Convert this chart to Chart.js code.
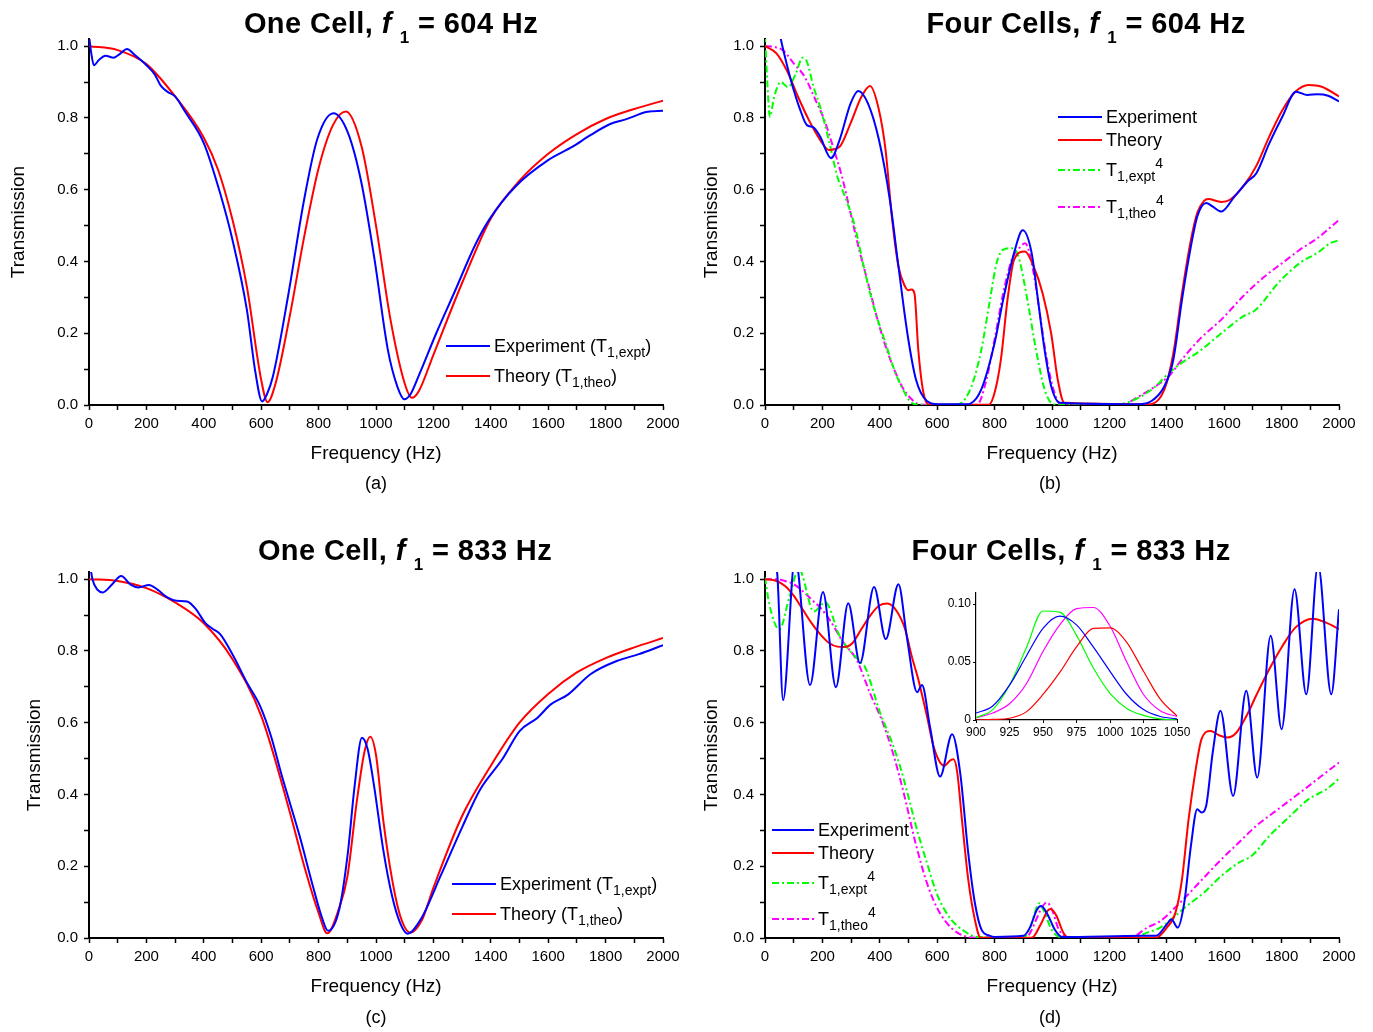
<!DOCTYPE html>
<html><head><meta charset="utf-8">
<script src="https://cdn.jsdelivr.net/npm/chart.js@4.4.1/dist/chart.umd.min.js"></script>
<style>
html,body{margin:0;padding:0;background:#fff;}
#wrap{position:relative;width:1373px;height:1032px;overflow:hidden;font-family:'Liberation Sans',Arial,sans-serif;color:#000;}
canvas{position:absolute;}
.ttl{position:absolute;transform:translateX(-50%);font-weight:bold;font-size:29px;line-height:28px;letter-spacing:0.4px;white-space:nowrap;z-index:2;}
.ttl i{font-style:italic;}
.ttl sub{font-size:17px;vertical-align:-10px;line-height:0;margin-left:8px;}
.cap{position:absolute;transform:translateX(-50%);font-size:18px;line-height:20px;white-space:nowrap;z-index:2;}
.lg{position:absolute;display:flex;align-items:center;height:20px;white-space:nowrap;z-index:2;}
.lg svg{flex:none;margin-right:4px;}
.lg span{line-height:20px;}
.lg sub{font-size:14px;vertical-align:-5px;line-height:0;}
.lg sup{font-size:14px;vertical-align:8px;line-height:0;}
</style></head>
<body><div id="wrap">
<canvas id="ca" width="690" height="500" style="left:0;top:0"></canvas>
<canvas id="cb" width="683" height="500" style="left:690px;top:0"></canvas>
<canvas id="cc" width="690" height="512" style="left:0;top:520px"></canvas>
<canvas id="cd" width="683" height="512" style="left:690px;top:520px"></canvas>
<canvas id="ci" width="280" height="160" style="left:930px;top:583px"></canvas>

<div class="ttl" style="left:391px;top:9px">One Cell, <i>f</i><sub>1</sub> = 604 Hz</div>
<div class="ttl" style="left:1086px;top:9px">Four Cells, <i>f</i><sub>1</sub> = 604 Hz</div>
<div class="ttl" style="left:405px;top:536px">One Cell, <i>f</i><sub>1</sub> = 833 Hz</div>
<div class="ttl" style="left:1071px;top:536px">Four Cells, <i>f</i><sub>1</sub> = 833 Hz</div>

<div class="cap" style="left:376px;top:473px">(a)</div>
<div class="cap" style="left:1050px;top:473px">(b)</div>
<div class="cap" style="left:376px;top:1007px">(c)</div>
<div class="cap" style="left:1050px;top:1007px">(d)</div>

<div class="lg" style="left:446px;top:336px;font-size:18px"><svg width="44" height="20"><line x1="0" y1="10" x2="44" y2="10" stroke="#0000ff" stroke-width="2"/></svg><span>Experiment (T<sub>1,expt</sub>)</span></div>
<div class="lg" style="left:446px;top:366px;font-size:18px"><svg width="44" height="20"><line x1="0" y1="10" x2="44" y2="10" stroke="#ff0000" stroke-width="2"/></svg><span>Theory (T<sub>1,theo</sub>)</span></div>

<div class="lg" style="left:452px;top:874px;font-size:18px"><svg width="44" height="20"><line x1="0" y1="10" x2="44" y2="10" stroke="#0000ff" stroke-width="2"/></svg><span>Experiment (T<sub>1,expt</sub>)</span></div>
<div class="lg" style="left:452px;top:904px;font-size:18px"><svg width="44" height="20"><line x1="0" y1="10" x2="44" y2="10" stroke="#ff0000" stroke-width="2"/></svg><span>Theory (T<sub>1,theo</sub>)</span></div>

<div class="lg" style="left:1058px;top:107px;font-size:18px"><svg width="44" height="20"><line x1="0" y1="10" x2="44" y2="10" stroke="#0000ff" stroke-width="2"/></svg><span>Experiment</span></div>
<div class="lg" style="left:1058px;top:130px;font-size:18px"><svg width="44" height="20"><line x1="0" y1="10" x2="44" y2="10" stroke="#ff0000" stroke-width="2"/></svg><span>Theory</span></div>
<div class="lg" style="left:1058px;top:160px;font-size:18px"><svg width="44" height="20"><line x1="0" y1="10" x2="44" y2="10" stroke="#00ff00" stroke-width="2" stroke-dasharray="7 3 2 3"/></svg><span>T<sub>1,expt</sub><sup>4</sup></span></div>
<div class="lg" style="left:1058px;top:197px;font-size:18px"><svg width="44" height="20"><line x1="0" y1="10" x2="44" y2="10" stroke="#ff00ff" stroke-width="2" stroke-dasharray="7 3 2 3"/></svg><span>T<sub>1,theo</sub><sup>4</sup></span></div>

<div class="lg" style="left:772px;top:820px;font-size:18px"><svg width="42" height="20"><line x1="0" y1="10" x2="42" y2="10" stroke="#0000ff" stroke-width="2"/></svg><span>Experiment</span></div>
<div class="lg" style="left:772px;top:843px;font-size:18px"><svg width="42" height="20"><line x1="0" y1="10" x2="42" y2="10" stroke="#ff0000" stroke-width="2"/></svg><span>Theory</span></div>
<div class="lg" style="left:772px;top:873px;font-size:18px"><svg width="42" height="20"><line x1="0" y1="10" x2="42" y2="10" stroke="#00ff00" stroke-width="2" stroke-dasharray="7 3 2 3"/></svg><span>T<sub>1,expt</sub><sup>4</sup></span></div>
<div class="lg" style="left:772px;top:909px;font-size:18px"><svg width="42" height="20"><line x1="0" y1="10" x2="42" y2="10" stroke="#ff00ff" stroke-width="2" stroke-dasharray="7 3 2 3"/></svg><span>T<sub>1,theo</sub><sup>4</sup></span></div>
</div>
<script>
// ---------- tick labels ----------
const xTicks = [0,100,200,300,400,500,600,700,800,900,1000,1100,1200,1300,1400,1500,1600,1700,1800,1900,2000];
const yTicks = [0,0.1,0.2,0.3,0.4,0.5,0.6,0.7,0.8,0.9,1.0];
const insetXTicks = [900,925,950,975,1000,1025,1050];
const insetYTicks = [0,0.05,0.10];

// ---------- (a) One Cell, f1 = 604 Hz ----------
const aExpF = [0,8,17,35,58,86,110,132,160,200,230,250,275,300,335,400,457,500,550,580,603,620,641,695,749,795,852,903,949,995,1041,1075,1099,1120,1148,1210,1271,1348,1394,1486,1601,1685,1747,1816,1870,1946,2000];
const aExpT = [1.03,0.98,0.947,0.962,0.973,0.968,0.98,0.992,0.975,0.947,0.92,0.89,0.872,0.86,0.817,0.73,0.59,0.46,0.266,0.09,0.01,0.03,0.08,0.31,0.57,0.74,0.813,0.757,0.62,0.405,0.155,0.05,0.016,0.03,0.08,0.2,0.31,0.45,0.516,0.609,0.683,0.72,0.752,0.783,0.796,0.817,0.82];
const aTheoF = [0,100,200,300,400,450,500,550,600,622,650,700,750,800,850,895,950,1000,1050,1100,1125,1150,1200,1300,1400,1500,1600,1700,1800,1900,2000];
const aTheoT = [1.0,0.989,0.95,0.86,0.745,0.655,0.516,0.33,0.07,0.008,0.06,0.25,0.47,0.66,0.78,0.818,0.72,0.5,0.24,0.06,0.02,0.04,0.14,0.34,0.52,0.625,0.70,0.755,0.797,0.825,0.848];

// ---------- (b) Four Cells, f1 = 604 Hz ----------
const bExpF = [0,30,55,78,100,123,146,169,192,230,260,298,325,359,397,435,465,496,526,564,602,700,716,754,800,830,868,898,929,951,974,997,1028,1300,1347,1392,1423,1453,1484,1506,1537,1560,1590,1635,1681,1712,1757,1803,1850,1890,1925,1962,2000];
const bExpT = [1.2,1.12,1.02,0.943,0.878,0.822,0.78,0.774,0.748,0.688,0.739,0.84,0.875,0.84,0.739,0.572,0.386,0.2,0.071,0.011,0.002,0.002,0.004,0.044,0.173,0.294,0.424,0.487,0.424,0.294,0.155,0.053,0.006,0.002,0.011,0.053,0.127,0.294,0.442,0.525,0.563,0.553,0.539,0.58,0.623,0.646,0.729,0.804,0.873,0.864,0.866,0.862,0.846];
const bTheoF = [0,40,78,115,153,192,222,260,298,336,366,397,420,442,465,488,500,511,521,534,552,572,780,800,822,845,868,906,936,967,997,1020,1043,1340,1392,1423,1453,1484,1506,1529,1544,1590,1620,1666,1711,1757,1803,1848,1894,1940,2000];
const bTheoT = [1.0,0.98,0.929,0.859,0.794,0.739,0.711,0.72,0.785,0.859,0.889,0.822,0.711,0.525,0.386,0.33,0.32,0.322,0.31,0.155,0.034,0.001,0.001,0.034,0.127,0.294,0.405,0.428,0.386,0.312,0.2,0.071,0.006,0.002,0.044,0.145,0.312,0.46,0.535,0.568,0.574,0.566,0.572,0.609,0.665,0.748,0.822,0.873,0.892,0.887,0.86];
const bT1eF = [0,8,17,32,55,80,108,131,146,169,192,222,252,283,313,344,366,389,420,450,480,511,540,650,678,700,724,754,784,807,830,860,883,914,944,974,997,1020,1225,1301,1362,1408,1453,1514,1590,1666,1711,1788,1864,1925,1970,2000];
const bT1eT = [1.03,0.9,0.803,0.859,0.9,0.886,0.925,0.968,0.957,0.887,0.831,0.739,0.637,0.572,0.498,0.386,0.312,0.247,0.173,0.099,0.044,0.006,0.001,0.001,0.003,0.02,0.062,0.155,0.294,0.396,0.433,0.437,0.414,0.294,0.155,0.044,0.006,0.001,0.001,0.02,0.053,0.09,0.118,0.15,0.2,0.247,0.266,0.34,0.396,0.424,0.451,0.459];
const bT1tF = [0,32,62,100,138,176,207,237,268,298,328,359,389,420,450,480,511,541,739,769,800,830,860,891,906,936,959,982,1005,1028,1250,1286,1362,1408,1453,1514,1590,1666,1742,1803,1864,1925,2000];
const bT1tT = [1.0,0.998,0.989,0.952,0.915,0.85,0.794,0.72,0.637,0.535,0.433,0.34,0.247,0.164,0.099,0.048,0.016,0.001,0.001,0.062,0.183,0.312,0.405,0.442,0.451,0.368,0.247,0.127,0.044,0.004,0.001,0.016,0.053,0.081,0.127,0.183,0.238,0.303,0.359,0.396,0.433,0.465,0.516];

// ---------- (c) One Cell, f1 = 833 Hz ----------
const cExpF = [0,12,30,48,80,112,145,173,209,240,273,304,342,373,404,430,457,503,550,596,634,672,734,780,810,833,872,902,925,951,971,994,1025,1056,1085,1110,1156,1225,1302,1363,1440,1501,1563,1609,1670,1747,1839,1916,2000];
const cExpT = [1.06,1.0,0.97,0.963,0.985,1.009,0.985,0.977,0.984,0.97,0.949,0.94,0.938,0.916,0.879,0.862,0.847,0.786,0.712,0.647,0.563,0.452,0.284,0.145,0.061,0.02,0.08,0.238,0.42,0.558,0.526,0.42,0.247,0.117,0.04,0.012,0.052,0.173,0.312,0.414,0.498,0.577,0.614,0.651,0.679,0.735,0.772,0.791,0.816];
const cTheoF = [0,100,200,300,400,500,600,700,750,800,830,870,900,933,960,980,1000,1025,1056,1085,1120,1160,1200,1300,1400,1500,1600,1700,1800,1900,2000];
const cTheoT = [1.0,0.995,0.975,0.935,0.877,0.777,0.619,0.35,0.2,0.07,0.013,0.08,0.17,0.38,0.52,0.561,0.51,0.33,0.164,0.06,0.015,0.05,0.14,0.34,0.48,0.6,0.68,0.74,0.78,0.81,0.836];

// ---------- (d) Four Cells, f1 = 833 Hz ----------
const dExpF = [0,42,63,105,157,202,247,290,331,380,421,465,494,530,547,575,610,652,680,708,731,754,784,800,900,923,947,962,985,1010,1035,1316,1362,1400,1416,1438,1461,1484,1506,1521,1537,1560,1587,1631,1677,1715,1762,1800,1845,1886,1927,1973,2000];
const dExpT = [1.1,1.02,0.663,1.06,0.705,0.964,0.699,0.933,0.766,0.978,0.833,0.986,0.84,0.685,0.705,0.588,0.45,0.568,0.461,0.238,0.099,0.024,0.006,0.003,0.006,0.029,0.078,0.089,0.065,0.023,0.003,0.006,0.006,0.038,0.052,0.029,0.099,0.257,0.359,0.35,0.368,0.517,0.633,0.396,0.689,0.447,0.842,0.582,0.972,0.679,1.04,0.679,0.916];
const dTheoF = [0,40,70,100,131,161,192,222,252,275,306,336,366,397,427,458,488,511,534,564,587,610,625,647,657,670,686,708,731,751,930,960,985,995,1015,1040,1060,1362,1400,1430,1453,1476,1499,1521,1552,1582,1612,1642,1681,1711,1757,1803,1848,1909,1955,2000];
const dTheoT = [1.0,0.995,0.981,0.954,0.916,0.879,0.847,0.823,0.812,0.811,0.823,0.861,0.898,0.926,0.932,0.912,0.861,0.786,0.721,0.619,0.535,0.489,0.48,0.496,0.498,0.461,0.331,0.164,0.052,0.001,0.001,0.037,0.076,0.081,0.063,0.014,0.001,0.001,0.029,0.07,0.164,0.331,0.461,0.554,0.577,0.565,0.559,0.572,0.624,0.675,0.749,0.814,0.865,0.89,0.879,0.861];
const dT1eF = [0,15,50,85,118,170,210,261,331,348,400,440,470,496,526,564,602,648,693,739,900,923,945,956,972,997,1022,1050,1271,1332,1377,1423,1469,1529,1590,1651,1696,1757,1818,1894,1955,2000];
const dT1eT = [1.005,0.93,0.86,0.95,1.028,0.91,0.935,0.84,0.77,0.756,0.63,0.55,0.48,0.405,0.312,0.21,0.117,0.052,0.02,0.003,0.002,0.026,0.082,0.097,0.075,0.026,0.004,0.001,0.001,0.015,0.029,0.057,0.089,0.126,0.173,0.21,0.229,0.284,0.331,0.387,0.414,0.444];
const dT1tF = [0,40,70,100,131,161,192,226,272,320,366,411,446,481,526,564,602,648,693,740,910,923,947,960,982,1002,1022,1035,1050,1271,1332,1377,1423,1469,1529,1590,1651,1711,1788,1864,1940,2000];
const dT1tT = [1.0,1.0,0.995,0.986,0.967,0.944,0.921,0.886,0.825,0.774,0.682,0.599,0.515,0.412,0.26,0.154,0.08,0.029,0.006,0.001,0.004,0.013,0.055,0.078,0.099,0.075,0.026,0.01,0.003,0.001,0.029,0.047,0.08,0.117,0.168,0.219,0.266,0.312,0.359,0.405,0.452,0.489];

// ---------- inset of (d): 900-1050 Hz ----------
const iF = [900,912.5,925,937.5,950,962.5,975,987.5,1000,1012.5,1025,1037.5,1050];
const iExp = [0.006,0.012,0.03,0.055,0.079,0.0895,0.082,0.063,0.042,0.022,0.009,0.003,0.001];
const iTheo = [0.0,0.0005,0.0015,0.007,0.022,0.041,0.063,0.079,0.0795,0.067,0.042,0.018,0.0035];
const iT1e = [0.002,0.009,0.03,0.062,0.094,0.093,0.073,0.045,0.023,0.01,0.004,0.001,0.0];
const iT1t = [0.002,0.006,0.014,0.031,0.059,0.082,0.096,0.097,0.081,0.05,0.022,0.008,0.003];

// ---------- helpers ----------
Chart.defaults.font.family = "'Liberation Sans', Arial, sans-serif";
Chart.defaults.color = '#000';
const BLUE = '#0000ff', RED = '#ff0000', GREEN = '#00ff00', MAG = '#ff00ff';

function pts(xs, ys){ return xs.map((x,i) => ({x: x, y: ys[i]})); }
function ds(xs, ys, color, dashed, w){
  return {data: pts(xs, ys), borderColor: color, borderWidth: w || 2, pointRadius: 0,
    cubicInterpolationMode: 'monotone', borderDash: dashed ? [7,3,2,3] : [], fill: false};
}
function mainChart(id, datasets, o){
  return new Chart(document.getElementById(id), {
    type: 'line',
    data: {datasets: datasets},
    options: {
      responsive: false, animation: false, events: [],
      layout: {padding: {left: 0, top: o.top, right: o.right, bottom: 0}},
      plugins: {legend: {display: false}, tooltip: {enabled: false}, title: {display: false}},
      scales: {
        x: {
          type: 'linear', min: 0, max: 2000,
          afterBuildTicks: ax => { ax.ticks = xTicks.map(v => ({value: v})); },
          afterFit: ax => { ax.height = o.xH; },
          ticks: {autoSkip: false, maxRotation: 0, padding: 5, font: {size: 15},
                  callback: v => (v % 200 === 0 ? String(v) : '')},
          grid: {drawOnChartArea: false, drawTicks: true, tickLength: 5, tickWidth: 1.5, tickColor: '#000'},
          border: {display: true, color: '#000', width: 2},
          title: {display: true, text: 'Frequency (Hz)', font: {size: 19, lineHeight: 1.2},
                  padding: {top: 0, bottom: o.xTitlePad}}
        },
        y: {
          type: 'linear', min: 0, max: 1.02,
          afterBuildTicks: ax => { ax.ticks = yTicks.map(v => ({value: v})); },
          afterFit: ax => { ax.width = o.yW; },
          ticks: {autoSkip: false, padding: 6, font: {size: 15},
                  callback: v => (Math.round(v * 10) % 2 === 0 ? v.toFixed(1) : '')},
          grid: {drawOnChartArea: false, drawTicks: true, tickLength: 5, tickWidth: 1.5, tickColor: '#000'},
          border: {display: true, color: '#000', width: 2},
          title: {display: true, text: 'Transmission', font: {size: 19, lineHeight: 1.2},
                  padding: {top: o.yTitlePad, bottom: 0}}
        }
      }
    }
  });
}

mainChart('ca', [ds(aExpF, aExpT, BLUE), ds(aTheoF, aTheoT, RED)],
  {top: 39, right: 27, yW: 89, xH: 95, xTitlePad: 35, yTitlePad: 7});
mainChart('cb', [ds(bExpF, bExpT, BLUE), ds(bTheoF, bTheoT, RED), ds(bT1eF, bT1eT, GREEN, true), ds(bT1tF, bT1tT, MAG, true)],
  {top: 39, right: 34, yW: 75, xH: 95, xTitlePad: 35, yTitlePad: 10});
mainChart('cc', [ds(cExpF, cExpT, BLUE), ds(cTheoF, cTheoT, RED)],
  {top: 52, right: 27, yW: 89, xH: 94, xTitlePad: 34, yTitlePad: 23});
mainChart('cd', [ds(dExpF, dExpT, BLUE), ds(dTheoF, dTheoT, RED), ds(dT1eF, dT1eT, GREEN, true), ds(dT1tF, dT1tT, MAG, true)],
  {top: 52, right: 34, yW: 75, xH: 94, xTitlePad: 34, yTitlePad: 10});

new Chart(document.getElementById('ci'), {
  type: 'line',
  data: {datasets: [ds(iF, iExp, BLUE, false, 1.2), ds(iF, iTheo, RED, false, 1.2), ds(iF, iT1e, GREEN, false, 1.2), ds(iF, iT1t, MAG, false, 1.2)]},
  options: {
    responsive: false, animation: false, events: [],
    layout: {padding: {left: 0, top: 10, right: 33, bottom: 0}},
    plugins: {legend: {display: false}, tooltip: {enabled: false}},
    scales: {
      x: {
        type: 'linear', min: 900, max: 1050,
        afterBuildTicks: ax => { ax.ticks = insetXTicks.map(v => ({value: v})); },
        afterFit: ax => { ax.height = 23; },
        ticks: {autoSkip: false, maxRotation: 0, padding: 2, font: {size: 12}, callback: v => String(v)},
        grid: {drawOnChartArea: false, drawTicks: true, tickLength: 3, tickWidth: 1, tickColor: '#000'},
        border: {display: true, color: '#000', width: 1.2}
      },
      y: {
        type: 'linear', min: 0, max: 0.1095,
        afterBuildTicks: ax => { ax.ticks = insetYTicks.map(v => ({value: v})); },
        afterFit: ax => { ax.width = 46; },
        ticks: {autoSkip: false, padding: 2, font: {size: 12}, callback: v => (v === 0 ? '0' : v.toFixed(2))},
        grid: {drawOnChartArea: false, drawTicks: true, tickLength: 3, tickWidth: 1, tickColor: '#000'},
        border: {display: true, color: '#000', width: 1.2}
      }
    }
  }
});
</script>
</body></html>
